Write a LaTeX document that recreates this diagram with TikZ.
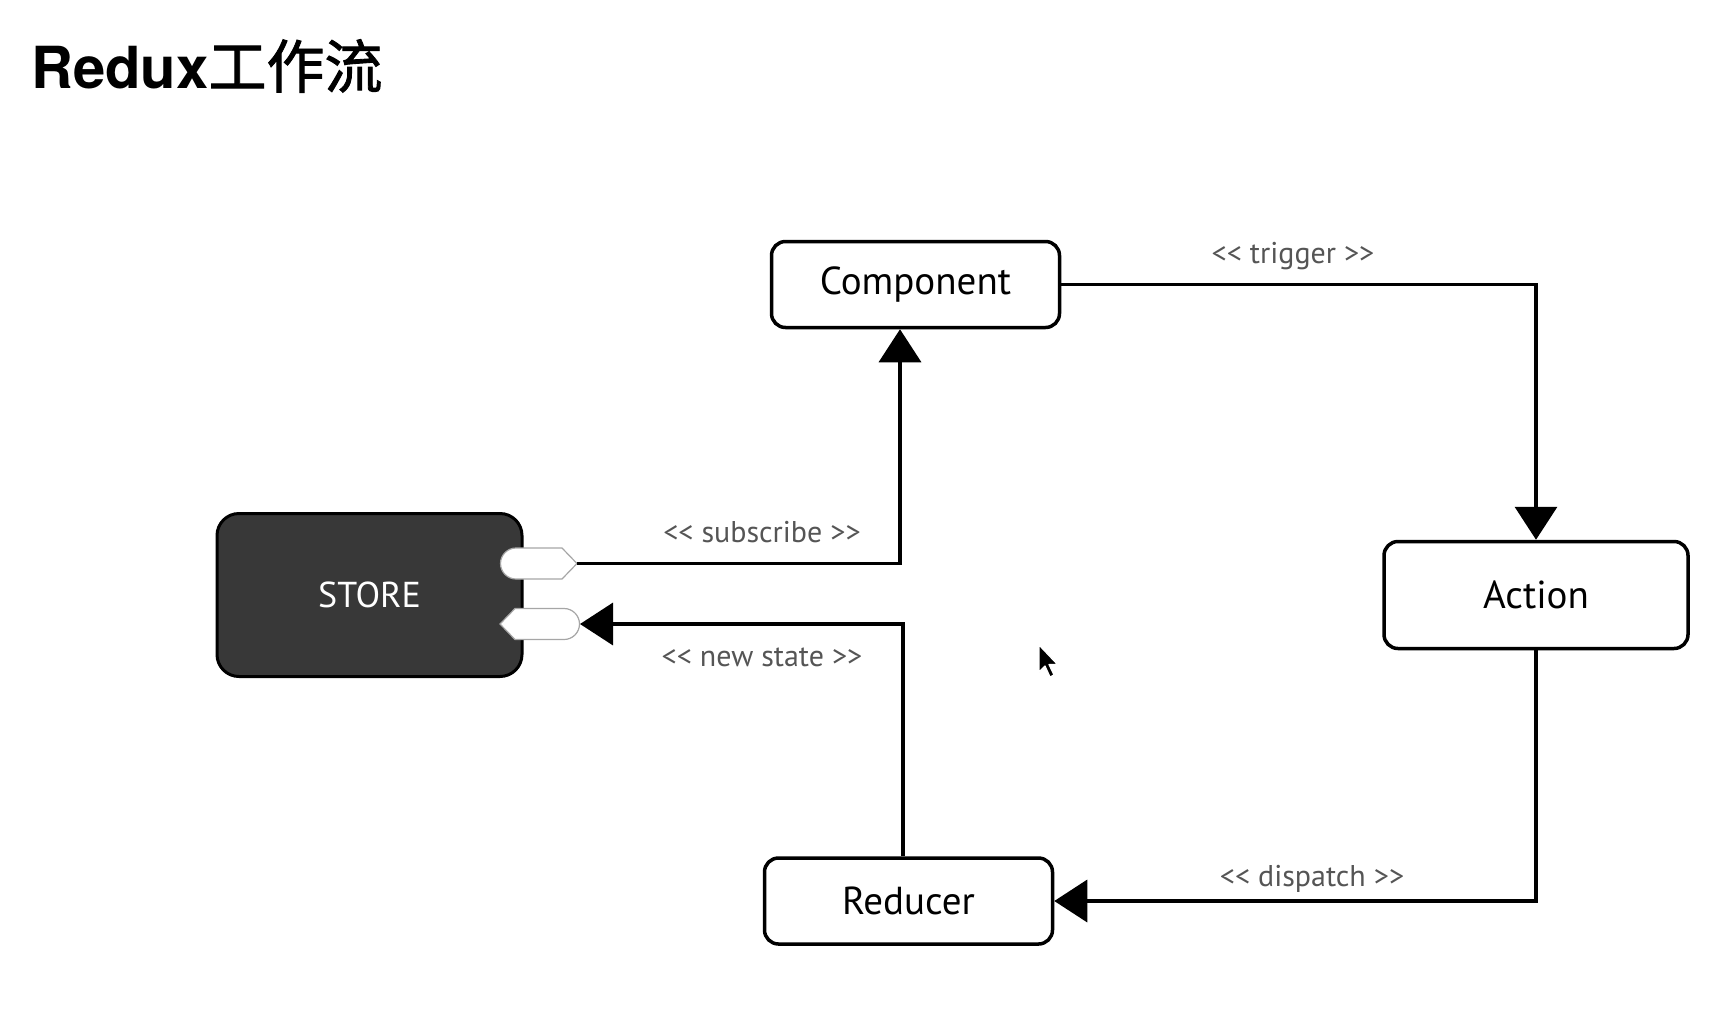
\documentclass[tikz,border=0pt]{standalone}
\usepackage{fontspec}
\setmainfont{PT Sans}
\newfontfamily\titlefont{TeX Gyre Heros}
\newfontfamily\cjkfont{Noto Sans CJK SC}[FakeBold=1.5]
\usetikzlibrary{arrows.meta,calc}
\definecolor{storefill}{HTML}{383838}
\definecolor{labelgray}{HTML}{555555}
\newcommand{\lt}{<\kern0pt<}
\newcommand{\gt}{>\kern0pt>}
\begin{document}
\begin{tikzpicture}[x=1pt,y=-1pt,
  box/.style={draw=black,line width=3.5pt,rounded corners=14pt,fill=white,
    font=\fontsize{39}{42}\selectfont,inner sep=0pt,anchor=center},
  storebox/.style={draw=black,line width=3pt,rounded corners=22pt,fill=storefill,
    text=white,font=\fontsize{36}{40}\selectfont,inner sep=0pt,anchor=center},
  conn/.style={line width=3.5pt,draw=black},
  tip/.style={-{Triangle[length=33pt,width=42pt]}},
  lbl/.style={text=labelgray,font=\fontsize{30}{32}\selectfont,inner sep=0pt,anchor=center},
  port/.style={fill=white,draw=gray!70,line width=1.2pt}
]
\useasboundingbox (0,0) rectangle (1729,1013);
% title
\node[anchor=base west,inner sep=0pt] (title) at (31,88)
  {\titlefont\bfseries\fontsize{58}{62}\selectfont Redux\cjkfont\mdseries 工作流};
% boxes
\node[box,minimum width=288pt,minimum height=86pt] (comp) at (915.5,284.5) {Component};
\node[box,minimum width=304pt,minimum height=107pt] (action) at (1536,595) {Action};
\node[box,minimum width=288pt,minimum height=86pt] (reducer) at (908.5,901) {Reducer};
\node[storebox,minimum width=305pt,minimum height=163pt] (store) at (369.5,595) {STORE};
% ports
\draw[port] (516,548) -- (562,548) -- (577,563.5) -- (562,579) -- (516,579)
  arc[start angle=270,end angle=90,radius=15.5pt] -- cycle;
\draw[port] (500,624) -- (515,608.5) -- (564,608.5)
  arc[start angle=90,end angle=-90,radius=15.5pt] -- (515,639.5) -- cycle;
\coordinate (subport) at (577,563.5);
\coordinate (nsport) at (580,624);
\coordinate (subturn) at (900,563.5);
\coordinate (nsturn) at (903,624);
% connectors
\draw[conn,tip] (subport) -- (subturn) -- (subturn |- comp.south);
\draw[conn,tip] (reducer.north -| nsturn) -- (nsturn) -- (nsport);
\draw[conn,tip] (comp.east) -| (action.north);
\draw[conn,tip] (action.south) |- (reducer.east);
% labels
\node[lbl] (ltrig) at (1293,256) {\lt{} trigger \gt};
\node[lbl] (lsub) at (762,532) {\lt{} subscribe \gt};
\node[lbl] (lns) at (762,657) {\lt{} new state \gt};
\node[lbl] (ldisp) at (1312,879) {\lt{} dispatch \gt};
% cursor
\draw[fill=black,draw=white,line width=1.2pt,line join=round]
  (1039,645) -- ++(0,27) -- ++(6,-6) -- ++(5,11) -- ++(4,-2) -- ++(-5,-10.5) -- ++(8.5,0) -- cycle;
\end{tikzpicture}
\end{document}
